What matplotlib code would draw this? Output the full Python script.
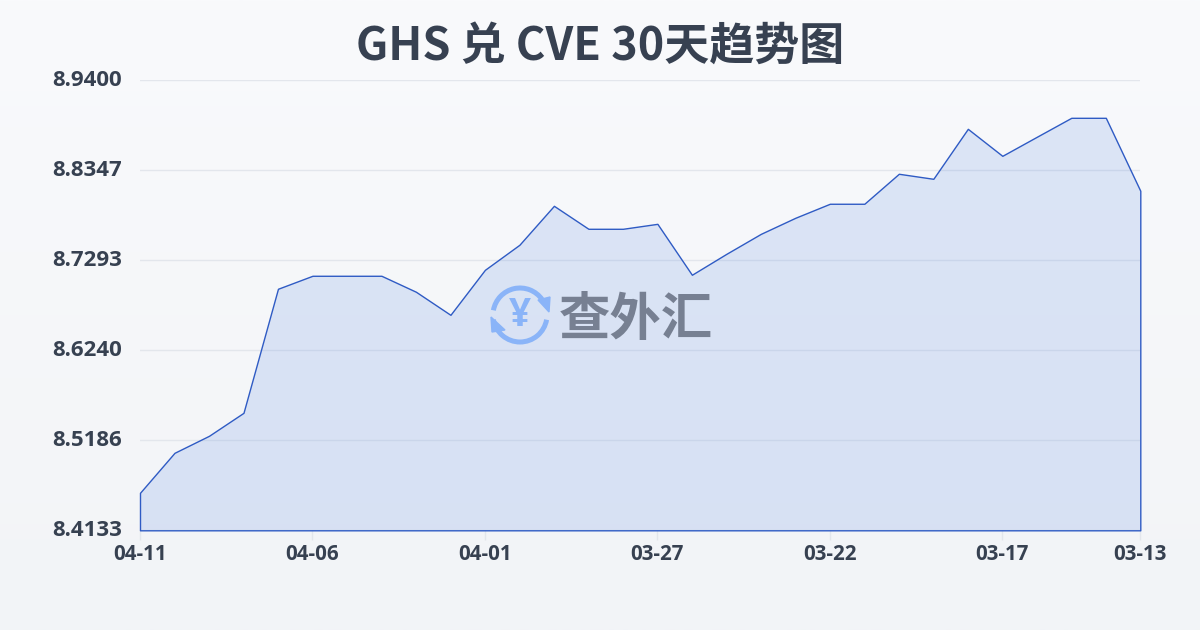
import numpy as np
import matplotlib
matplotlib.use('Agg')
import matplotlib.pyplot as plt
from matplotlib.patches import Arc, Polygon
from matplotlib.transforms import ScaledTranslation

plt.rcParams['font.family'] = ['Noto Sans CJK SC', 'DejaVu Sans']

rates = [8.4572, 8.5040, 8.5239, 8.5508, 8.6960, 8.7112, 8.7112, 8.7112, 8.6925, 8.6655,
         8.7182, 8.7475, 8.7931, 8.7662, 8.7662, 8.7720, 8.7124, 8.7369, 8.7603, 8.7791,
         8.7955, 8.7955, 8.8306, 8.8247, 8.8832, 8.8516, 8.8739, 8.8961, 8.8961, 8.8107]
x_pos = [0, 5, 10, 15, 20, 25, 29]
x_labels = ['04-11', '04-06', '04-01', '03-27', '03-22', '03-17', '03-13']
y_ticks = [8.4133, 8.5186, 8.6240, 8.7293, 8.8347, 8.9400]
y_labels = ['8.4133', '8.5186', '8.6240', '8.7293', '8.8347', '8.9400']

W, H = 1200, 630
fig = plt.figure(figsize=(12, 6.3), dpi=100)

# background gradient
bg = fig.add_axes([0, 0, 1, 1], zorder=0)
bg.imshow(np.linspace(0, 1, 256).reshape(-1, 1), aspect='auto', extent=[0, 1, 0, 1],
          cmap=matplotlib.colors.LinearSegmentedColormap.from_list('bg', ['#f9fafc', '#f2f4f7']))
bg.axis('off')

ax = fig.add_axes([140 / W, 1 - 530.3 / H, 1000.3 / W, 450 / H], zorder=1)
ax.patch.set_alpha(0)
ax.set_xlim(0, 29)
ax.set_ylim(8.4133, 8.94)
ax.fill_between(range(len(rates)), rates, 8.4133, facecolor=(0.30, 0.50, 0.88, 0.165),
                edgecolor='#2f5bc4', linewidth=1, zorder=3, clip_on=False)
ax.grid(axis='y', color='#e3e6ec', linewidth=1)
ax.set_axisbelow(True)
for s in ax.spines.values():
    s.set_visible(False)

ax.set_xticks(x_pos)
ax.set_xticklabels(x_labels, fontsize=14.8, fontweight='bold', color='#374151', family=['Open Sans', 'DejaVu Sans'])
ax.set_yticks(y_ticks)
ax.set_yticklabels(y_labels, fontsize=16, fontweight='bold', color='#374151', family=['Open Sans', 'DejaVu Sans'])
ax.tick_params(axis='y', length=0, pad=13)
ax.tick_params(axis='x', length=7, width=1, color='#e3e6ec', pad=3)
up = ScaledTranslation(0, 2.5 / 100, fig.dpi_scale_trans)
for lab in ax.get_yticklabels():
    lab.set_transform(lab.get_transform() + up)

fig.text(600 / W, 1 - 47 / H, 'GHS 兑 CVE 30天趋势图', ha='center', va='center',
         fontsize=32.4, fontweight='bold', color='#374151')

# watermark, drawn in pixel coordinates
wm = fig.add_axes([0, 0, 1, 1], zorder=2)
wm.set_xlim(0, W)
wm.set_ylim(H, 0)
wm.axis('off')
blue = '#8ab4f8'
wm.add_patch(Arc((520, 315), 54, 54, theta1=190, theta2=325, color=blue, lw=3.6))
wm.add_patch(Arc((520, 315), 54, 54, theta1=10, theta2=170, color=blue, lw=3.6))
wm.add_patch(Polygon([(538, 300), (550, 297), (549, 312)], color=blue))
wm.add_patch(Polygon([(491, 317), (505, 330), (492, 332)], color=blue))
wm.text(520, 315, '¥', ha='center', va='center', fontsize=28, fontweight='bold', color=blue,
        family=['Open Sans', 'DejaVu Sans'])
wm.text(636, 319, '查外汇', ha='center', va='center', fontsize=37, fontweight='bold', color='#778092')

fig.savefig('out.png', dpi=100)
